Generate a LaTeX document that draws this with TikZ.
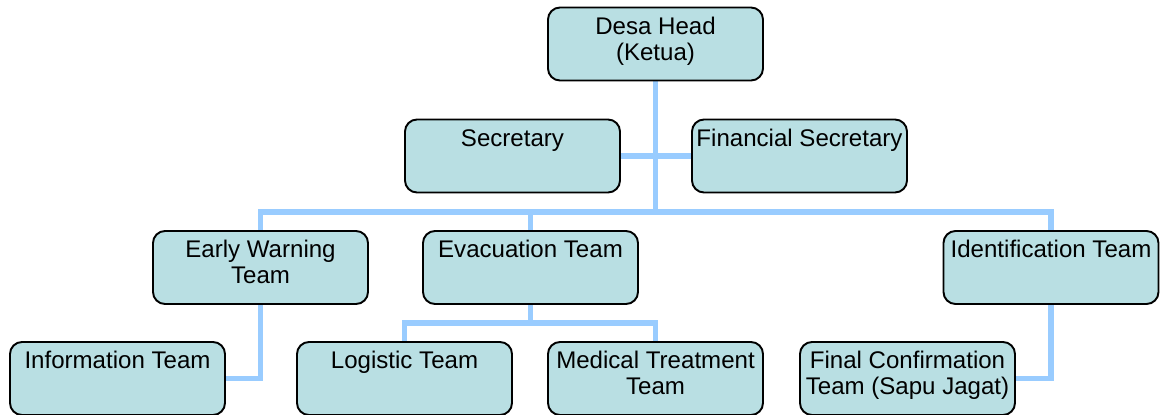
\documentclass[tikz,border=0pt]{standalone}
\usepackage{fontspec}
\setmainfont{Liberation Sans}
\usepackage{xcolor}
\usetikzlibrary{backgrounds}
\definecolor{boxfill}{HTML}{B9DFE3}
\definecolor{linkblue}{HTML}{99CCFF}
% Contenuto del riquadro: testo in alto, centrato
\newcommand{\boxtext}[1]{\parbox[c][1.46cm][t]{4.3cm}{\centering\rule{0pt}{0.53cm}#1}}
\tikzset{
    unit/.style = {draw = black, line width = 1.1pt, fill = boxfill, rounded corners = 0.24cm,
        minimum width = 4.3cm, minimum height = 1.46cm, inner sep = 0pt,
        font = \fontsize{13.7pt}{14.8pt}\selectfont},
    link/.style = {draw = linkblue, line width = 3.4pt}
}

\begin{document}
\begin{tikzpicture}[scale = 1.0]
    % Area del disegno
    \useasboundingbox (0,0) rectangle (23.2,-8.28);
    % Vertice
    \node[unit] (head) at (13.11,-0.88){\boxtext{Desa Head\\(Ketua)}};
    % Segreteria
    \node[unit] (sec) at (10.25,-3.12){\boxtext{Secretary}};
    \node[unit] (fin) at (15.99,-3.12){\boxtext{Financial Secretary}};
    % Squadre
    \node[unit] (early) at (5.21,-5.35){\boxtext{Early Warning\\Team}};
    \node[unit] (evac) at (10.61,-5.35){\boxtext{Evacuation Team}};
    \node[unit] (ident) at (21.02,-5.35){\boxtext{Identification Team}};
    % Sottosquadre
    \node[unit] (info) at (2.35,-7.57){\boxtext{Information Team}};
    \node[unit] (logi) at (8.09,-7.57){\boxtext{Logistic Team}};
    \node[unit] (med) at (13.11,-7.57){\boxtext{Medical Treatment\\Team}};
    \node[unit] (final) at (18.15,-7.57){\boxtext{Final Confirmation\\Team (Sapu Jagat)}};
    % Collegamenti
    \coordinate (bus) at (0,-4.24);
    \coordinate (evbus) at (0,-6.46);
    \begin{scope}[on background layer]
        \draw[link] (head) -- (head |- bus);
        \draw[link] (sec) -- (fin);
        \draw[link] (early) -- (early |- bus) -- (ident |- bus) -- (ident);
        \draw[link] (evac) -- (evac |- bus);
        \draw[link] (early) |- (info);
        \draw[link] (ident) |- (final);
        \draw[link] (evac) -- (evac |- evbus);
        \draw[link] (logi) -- (logi |- evbus) -- (med |- evbus) -- (med);
    \end{scope}
\end{tikzpicture}
\end{document}
